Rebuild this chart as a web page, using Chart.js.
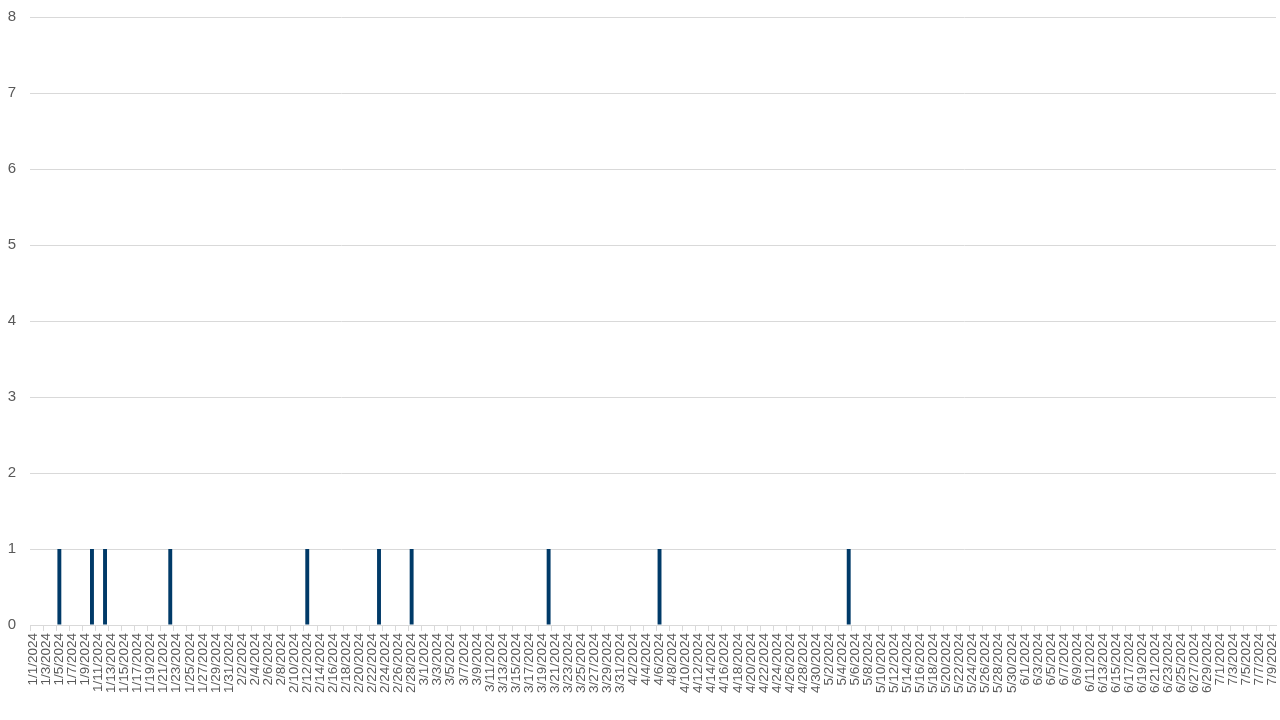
<!DOCTYPE html>
<html>
<head>
<meta charset="utf-8">
<script src="https://cdn.jsdelivr.net/npm/chart.js@4/dist/chart.umd.min.js"></script>
<style>
  html, body { margin: 0; padding: 0; background: #fff; }
  #wrap { width: 1280px; height: 720px; }
</style>
</head>
<body>
<div id="wrap"><canvas id="chart"></canvas></div>
<script>
// jours du 1/1/2024 au 7/9/2024
const moisJours = [31, 29, 31, 30, 31, 30, 9];
const jours = [];
moisJours.forEach((n, m) => {
  for (let d = 1; d <= n; d++) jours.push((m + 1) + "/" + d + "/2024");
});

// jours avec un évènement (valeur 1)
const joursActifs = ["1/5/2024", "1/10/2024", "1/12/2024", "1/22/2024", "2/12/2024",
  "2/23/2024", "2/28/2024", "3/20/2024", "4/6/2024", "5/5/2024"];
const valeursActives = [1, 1, 1, 1, 1, 1, 1, 1, 1, 1];

const valeurs = jours.map(j => {
  const i = joursActifs.indexOf(j);
  return i >= 0 ? valeursActives[i] : 0;
});

const yMax = 8;
const yPas = 1;

new Chart(document.getElementById("chart").getContext("2d"), {
  type: "bar",
  data: {
    labels: jours,
    datasets: [{
      data: valeurs,
      backgroundColor: "#003A68",
      categoryPercentage: 1,
      barPercentage: 0.6
    }]
  },
  options: {
    responsive: true,
    maintainAspectRatio: false,
    animation: false,
    layout: { padding: { top: 17, right: 4, left: 0, bottom: 0 } },
    plugins: { legend: { display: false }, tooltip: { enabled: false } },
    scales: {
      x: {
        afterFit: s => {
          s.height = 95;
          s.paddingLeft = 0;
          s.paddingRight = 0;
        },
        grid: {
          offset: true,
          drawOnChartArea: false,
          tickLength: 6,
          color: c => (c.index % 2 === 0 ? "#d9d9d9" : "rgba(0,0,0,0)")
        },
        border: { color: "#d9d9d9" },
        ticks: {
          autoSkip: false,
          maxRotation: 90,
          minRotation: 90,
          padding: 2,
          color: "#595959",
          font: { family: "Liberation Sans", size: 13.5 },
          callback: (v, i) => (i % 2 === 0 ? jours[i] : "")
        }
      },
      y: {
        min: 0,
        max: yMax,
        afterFit: s => {
          s.width = 30;
          s.paddingTop = 0;
          s.paddingBottom = 0;
        },
        grid: { color: "#d9d9d9", drawTicks: false },
        border: { display: false },
        ticks: {
          stepSize: yPas,
          padding: 14,
          color: "#595959",
          font: { family: "Liberation Sans", size: 15 }
        }
      }
    }
  }
});
</script>
</body>
</html>
